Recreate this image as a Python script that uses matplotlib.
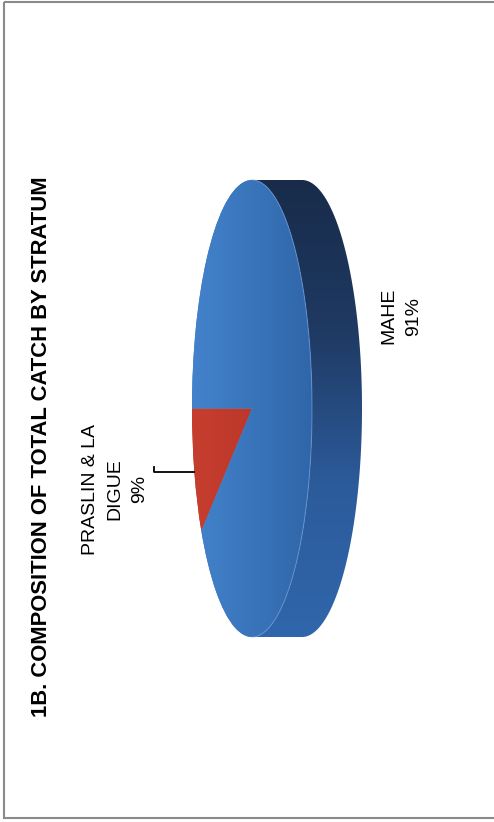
import numpy as np
import matplotlib.pyplot as plt
from matplotlib.colors import LinearSegmentedColormap
from matplotlib.patches import Polygon, Rectangle

plt.rcParams['font.family'] = ['Liberation Sans', 'DejaVu Sans']

title = '1B. COMPOSITION OF TOTAL CATCH BY STRATUM'
labels = ['PRASLIN & LA\nDIGUE', 'MAHE']
shares = [9, 91]
colors = ['#c0392b', '#3a76be']
shades = [['#c63e2e', '#b33128'], ['#4383cc', '#3066a9']]

W, H = 494, 822
fig = plt.figure(figsize=(W / 100, H / 100), dpi=100)

# background axes in pixel units, for frame and texts
bg = fig.add_axes([0, 0, 1, 1])
bg.set_xlim(0, W)
bg.set_ylim(H, 0)
bg.axis('off')
bg.add_patch(Rectangle((3.5, 2), W, 816, fill=False, ec='#8a8a8a', lw=1.5))

# the pie is drawn rotated, squashed into an ellipse with a side wall
cx, cy, a, b, depth = 252, 408.5, 60, 228.5, 50
left, right, top, bottom = 140, 385, 165, 655
ax = fig.add_axes([left / W, 1 - bottom / H, (right - left) / W, (bottom - top) / H])

t = np.linspace(np.pi / 2, -np.pi / 2, 300)
d = depth / a
side = np.vstack([np.column_stack([np.cos(t) + d, np.sin(t)]),
                  np.column_stack([np.cos(t[::-1]), np.sin(t[::-1])])])
wall = Polygon(side, closed=True, fc='none', ec='none')
ax.add_patch(wall)
side_cmap = LinearSegmentedColormap.from_list('side', ['#182b4a', '#1f3a63', '#2c5b9b', '#3066ab'])
im = ax.imshow(np.linspace(0, 1, 256).reshape(-1, 1), extent=[0, 1 + d, -1, 1],
               origin='upper', cmap=side_cmap, aspect='auto', zorder=1)
im.set_clip_path(wall)

wedges, _ = ax.pie(shares, colors=colors, startangle=180, counterclock=True,
                   radius=1, center=(0, 0))
for w, c in zip(wedges, shades):
    w.set_zorder(2)
    cm = LinearSegmentedColormap.from_list('face', c)
    im = ax.imshow(np.linspace(0, 1, 256).reshape(1, -1), extent=[-1, 1, -1, 1],
                   cmap=cm, aspect='auto', zorder=3)
    im.set_clip_path(w)

# thin highlight along the rim
ax.plot(np.cos(t), np.sin(t), color='#6f9fd8', lw=0.8, alpha=0.6, zorder=4)

# leader line to the small slice
mid = np.deg2rad(180 + shares[0] / sum(shares) * 360 / 2)
ex, ey = np.cos(mid), np.sin(mid)
ax.plot([(154 - cx) / a, (154 - cx) / a, ex], [ey + 5 / b, ey, ey],
        color='black', lw=1.3, clip_on=False, zorder=5)

ax.set_xlim((left - cx) / a, (right - cx) / a)
ax.set_ylim(-(bottom - cy) / b, (cy - top) / b)
ax.set_aspect('auto')
ax.axis('off')

bg.text(42, 447, title, rotation=90, ha='center', va='center',
        fontsize=15.8, fontweight='bold')
bg.text(115, 489, f'{labels[0]}\n{shares[0]}%', rotation=90, ha='center', va='center',
        multialignment='center', fontsize=14, linespacing=1.6)
bg.text(401, 316, f'{labels[1]}\n{shares[1]}%', rotation=90, ha='center', va='center',
        multialignment='center', fontsize=14, linespacing=1.6)

fig.savefig('out.png', dpi=100)
